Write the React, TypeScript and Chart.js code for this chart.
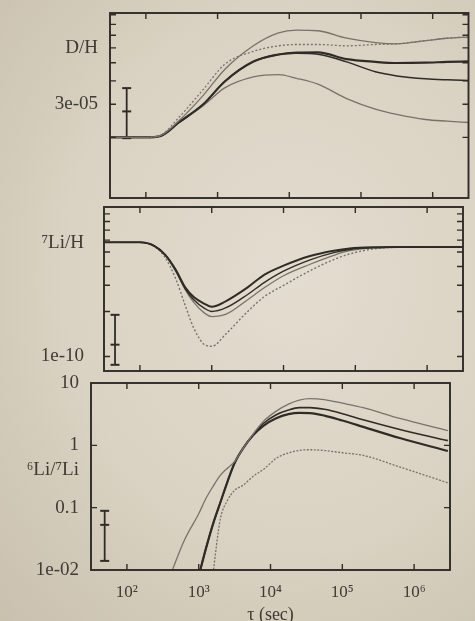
import React, { useEffect, useRef } from 'react';
import { Chart, registerables } from 'chart.js';

Chart.register(...registerables);

const W = 475;
const H = 621;

// ---------- shared x axis (time, sec) ----------
const xMin = 31.6;
const xMax = 3.16e6;
const xTickValues = [1e2, 1e3, 1e4, 1e5, 1e6];
const xTickLabels = ['10²', '10³', '10⁴', '10⁵', '10⁶'];
const xTitle = 'τ (sec)';

// ---------- panel 1 : D/H ----------
const dhTime = [32, 100, 158, 288, 631, 1259, 3162, 7079, 12589, 25119, 63096, 158489, 316228, 794328, 1585000, 3162000];
const dhModelA = [2e-5, 2e-5, 2.04e-5, 2.45e-5, 3.35e-5, 4.6e-5, 6.15e-5, 7.2e-5, 7.45e-5, 7.4e-5, 6.75e-5, 6.4e-5, 6.3e-5, 6.55e-5, 6.75e-5, 6.85e-5];
const dhModelB = [2e-5, 2e-5, 2.05e-5, 2.55e-5, 3.6e-5, 4.9e-5, 5.75e-5, 6.15e-5, 6.25e-5, 6.25e-5, 6.15e-5, 6.25e-5, 6.3e-5, 6.55e-5, 6.75e-5, 6.85e-5];
const dhModelC = [2e-5, 2e-5, 2.03e-5, 2.4e-5, 3.0e-5, 3.97e-5, 5.07e-5, 5.53e-5, 5.66e-5, 5.68e-5, 5.22e-5, 5.05e-5, 4.98e-5, 5.0e-5, 5.05e-5, 5.08e-5];
const dhModelD = [2e-5, 2e-5, 2.03e-5, 2.4e-5, 3.0e-5, 3.97e-5, 5.07e-5, 5.53e-5, 5.62e-5, 5.55e-5, 5.05e-5, 4.47e-5, 4.25e-5, 4.1e-5, 4.05e-5, 4.02e-5];
const dhModelE = [2e-5, 2e-5, 2.03e-5, 2.4e-5, 2.95e-5, 3.67e-5, 4.2e-5, 4.32e-5, 4.13e-5, 3.84e-5, 3.22e-5, 2.83e-5, 2.65e-5, 2.49e-5, 2.44e-5, 2.4e-5];
const dhYMin = 0.95e-5;
const dhYMax = 9.2e-5;
const dhMarkValues = [2e-5, 3e-5, 4e-5, 5e-5, 6e-5, 7e-5, 8e-5, 9e-5];
const dhLabelValues = [3e-5, 6e-5];
const dhLabelTexts = ['3e-05', 'D/H'];
const dhErrTime = 54;
const dhErrValues = [1.98e-5, 2.75e-5, 3.66e-5];

// ---------- panel 2 : 7Li/H ----------
const liTime = [32, 100, 158, 224, 316, 427, 562, 794, 1000, 1585, 3162, 5370, 10000, 23442, 50119, 83176, 199526, 398107, 1000000, 3162000];
const liModelA = [5.8e-10, 5.8e-10, 5.5e-10, 4.8e-10, 3.8e-10, 2.9e-10, 2.5e-10, 2.25e-10, 2.15e-10, 2.35e-10, 2.9e-10, 3.52e-10, 4.05e-10, 4.7e-10, 5.1e-10, 5.28e-10, 5.38e-10, 5.4e-10, 5.4e-10, 5.4e-10];
const liModelB = [5.8e-10, 5.8e-10, 5.5e-10, 4.8e-10, 3.75e-10, 2.85e-10, 2.4e-10, 2.1e-10, 2.0e-10, 2.12e-10, 2.6e-10, 3.12e-10, 3.72e-10, 4.43e-10, 4.95e-10, 5.2e-10, 5.36e-10, 5.4e-10, 5.4e-10, 5.4e-10];
const liModelC = [5.8e-10, 5.8e-10, 5.5e-10, 4.75e-10, 3.7e-10, 2.8e-10, 2.3e-10, 1.95e-10, 1.85e-10, 1.92e-10, 2.4e-10, 2.88e-10, 3.47e-10, 4.14e-10, 4.75e-10, 5.1e-10, 5.34e-10, 5.4e-10, 5.4e-10, 5.4e-10];
const liModelD = [5.8e-10, 5.8e-10, 5.45e-10, 4.6e-10, 3.3e-10, 2.2e-10, 1.55e-10, 1.2e-10, 1.17e-10, 1.42e-10, 2.0e-10, 2.51e-10, 2.99e-10, 3.75e-10, 4.45e-10, 4.85e-10, 5.28e-10, 5.38e-10, 5.4e-10, 5.4e-10];
const liYMin = 8e-11;
const liYMax = 1e-9;
const liMarkValues = [1e-10, 2e-10, 3e-10, 4e-10, 5e-10, 6e-10, 7e-10, 8e-10, 9e-10];
const liLabelValues = [1e-10, 5.7e-10];
const liLabelTexts = ['1e-10', '⁷Li/H'];
const liErrTime = 45;
const liErrValues = [0.88e-10, 1.2e-10, 1.9e-10];

// ---------- panel 3 : 6Li/7Li ----------
const ratioTime = [398, 631, 1000, 1259, 1585, 1995, 2512, 3162, 4169, 5754, 7943, 12023, 17783, 25119, 35481, 56234, 100000, 194984, 630957, 2950000];
const ratioModelA = [0.008, 0.03, 0.08, 0.14, 0.22, 0.33, 0.43, 0.55, 0.9, 1.53, 2.42, 3.54, 4.57, 5.33, 5.63, 5.41, 4.75, 4.02, 2.7, 1.72];
const ratioModelB = [null, null, 0.008, 0.022, 0.055, 0.12, 0.26, 0.52, 0.9, 1.49, 2.24, 3.1, 3.69, 4.02, 4.03, 3.78, 3.22, 2.57, 1.8, 1.19];
const ratioModelC = [null, null, 0.008, 0.022, 0.055, 0.12, 0.26, 0.52, 0.9, 1.46, 2.06, 2.72, 3.16, 3.32, 3.29, 3.0, 2.5, 1.98, 1.31, 0.81];
const ratioModelD = [null, null, null, null, 0.009, 0.065, 0.13, 0.19, 0.23, 0.32, 0.41, 0.62, 0.755, 0.83, 0.85, 0.825, 0.76, 0.69, 0.45, 0.25];
const ratioYMin = 0.01;
const ratioYMax = 10;
const ratioMarkValues = [0.1, 1];
const ratioLabelValues = [0.01, 0.1, 0.4, 1, 10];
const ratioLabelTexts = ['1e-02', '0.1', '⁶Li/⁷Li', '1', '10'];
const ratioErrTime = 49;
const ratioErrValues = [0.014, 0.053, 0.089];

// ---------- styling ----------
const INK = '#2f2c28';
const GRAY = '#77726b';
const TEXT = '#3e3a35';
const SERIF = "'Liberation Serif', 'DejaVu Serif', serif";

type Line = { values: (number | null)[]; color: string; width: number; dash?: number[] };
type Spec = {
  top: number; bottom: number; left: number; right: number;
  yMin: number; yMax: number;
  marks: number[]; labelValues: number[]; labelTexts: string[];
  labelPad: number;
  time: number[]; lines: Line[];
  errTime: number; errValues: number[];
  showX: boolean;
};

const panels: Spec[] = [
  {
    top: 13, bottom: 198, left: 110, right: 470,
    yMin: dhYMin, yMax: dhYMax, marks: dhMarkValues,
    labelValues: dhLabelValues, labelTexts: dhLabelTexts, labelPad: 12,
    time: dhTime,
    lines: [
      { values: dhModelA, color: GRAY, width: 1.3 },
      { values: dhModelB, color: GRAY, width: 1.3, dash: [2, 2] },
      { values: dhModelC, color: INK, width: 2.2 },
      { values: dhModelD, color: INK, width: 1.5 },
      { values: dhModelE, color: GRAY, width: 1.3 },
    ],
    errTime: dhErrTime, errValues: dhErrValues, showX: false,
  },
  {
    top: 207, bottom: 371, left: 104, right: 463,
    yMin: liYMin, yMax: liYMax, marks: liMarkValues,
    labelValues: liLabelValues, labelTexts: liLabelTexts, labelPad: 20,
    time: liTime,
    lines: [
      { values: liModelA, color: INK, width: 2.0 },
      { values: liModelB, color: INK, width: 1.4 },
      { values: liModelC, color: GRAY, width: 1.3 },
      { values: liModelD, color: GRAY, width: 1.4, dash: [2, 2] },
    ],
    errTime: liErrTime, errValues: liErrValues, showX: false,
  },
  {
    top: 383, bottom: 570, left: 91, right: 450,
    yMin: ratioYMin, yMax: ratioYMax, marks: ratioMarkValues,
    labelValues: ratioLabelValues, labelTexts: ratioLabelTexts, labelPad: 12,
    time: ratioTime,
    lines: [
      { values: ratioModelA, color: GRAY, width: 1.3 },
      { values: ratioModelB, color: INK, width: 1.6 },
      { values: ratioModelC, color: INK, width: 2.2 },
      { values: ratioModelD, color: GRAY, width: 1.3, dash: [2, 1.5] },
    ],
    errTime: ratioErrTime, errValues: ratioErrValues, showX: true,
  },
];

const framePlugin = {
  id: 'frameTicks',
  afterDatasetsDraw(chart: any, _args: any, opts: any) {
    const { ctx, chartArea } = chart;
    const { left, right, top, bottom } = chartArea;
    const xs = chart.scales.x;
    const ys = chart.scales.y;
    const len = opts.len;
    ctx.save();
    ctx.strokeStyle = opts.color;
    ctx.lineWidth = opts.tickWidth;
    ctx.beginPath();
    for (const v of opts.xMarks) {
      const px = xs.getPixelForValue(v);
      ctx.moveTo(px, bottom);
      ctx.lineTo(px, bottom - len);
      ctx.moveTo(px, top);
      ctx.lineTo(px, top + len);
    }
    for (const v of opts.yMarks) {
      const py = ys.getPixelForValue(v);
      ctx.moveTo(left, py);
      ctx.lineTo(left + len, py);
      ctx.moveTo(right, py);
      ctx.lineTo(right - len, py);
    }
    ctx.stroke();
    ctx.lineWidth = opts.frameWidth;
    ctx.strokeRect(left, top, right - left, bottom - top);
    ctx.restore();
  },
};

function buildConfig(p: Spec): any {
  const datasets: any[] = p.lines.map((ln) => ({
    data: p.time.map((t, i) => ({ x: t, y: ln.values[i] })),
    borderColor: ln.color,
    borderWidth: ln.width,
    borderDash: ln.dash || [],
    pointRadius: 0,
    fill: false,
    cubicInterpolationMode: 'monotone',
    spanGaps: false,
  }));
  datasets.push({
    data: p.errValues.map((v) => ({ x: p.errTime, y: v })),
    borderColor: INK,
    borderWidth: 1.8,
    pointStyle: 'line',
    pointRadius: 4.5,
    pointBorderWidth: 2,
    pointBorderColor: INK,
    fill: false,
    clip: false,
  });

  return {
    type: 'line',
    data: { datasets },
    plugins: [framePlugin],
    options: {
      animation: false,
      responsive: false,
      devicePixelRatio: 1,
      events: [],
      layout: {
        padding: { top: p.top, bottom: p.showX ? 0 : H - p.bottom, left: 0, right: W - p.right },
      },
      plugins: {
        legend: { display: false },
        tooltip: { enabled: false },
        frameTicks: { xMarks: xTickValues, yMarks: p.marks, len: 6, color: INK, tickWidth: 1.4, frameWidth: 1.9 },
      },
      scales: {
        x: {
          type: 'logarithmic',
          min: xMin,
          max: xMax,
          display: p.showX,
          grid: { display: false, drawTicks: false },
          border: { display: false },
          afterBuildTicks: (s: any) => {
            s.ticks = xTickValues.map((v) => ({ value: v }));
          },
          ticks: {
            autoSkip: false,
            maxRotation: 0,
            padding: 12,
            color: TEXT,
            font: { family: SERIF, size: 17 },
            callback: (v: any) => {
              const i = xTickValues.indexOf(v);
              return i >= 0 ? xTickLabels[i] : '';
            },
          },
          title: {
            display: true,
            text: xTitle,
            color: TEXT,
            font: { family: SERIF, size: 18 },
            padding: { top: 0, bottom: -5 },
          },
          afterFit: (s: any) => {
            if (!p.showX) return;
            s.height = H - p.bottom;
            s.paddingLeft = 0;
            s.paddingRight = 0;
          },
        },
        y: {
          type: 'logarithmic',
          min: p.yMin,
          max: p.yMax,
          grid: { display: false, drawTicks: false },
          border: { display: false },
          afterBuildTicks: (s: any) => {
            s.ticks = p.labelValues.map((v) => ({ value: v }));
          },
          ticks: {
            autoSkip: false,
            padding: p.labelPad,
            color: TEXT,
            font: { family: SERIF, size: 19 },
            callback: (v: any) => {
              const i = p.labelValues.indexOf(v);
              return i >= 0 ? p.labelTexts[i] : '';
            },
          },
          afterFit: (s: any) => {
            s.width = p.left;
            s.paddingTop = 0;
            s.paddingBottom = 0;
          },
        },
      },
    },
  };
}

function Panel({ spec }: { spec: Spec }) {
  const ref = useRef<HTMLCanvasElement>(null);
  useEffect(() => {
    const chart = new Chart(ref.current as HTMLCanvasElement, buildConfig(spec));
    return () => chart.destroy();
  }, [spec]);
  return (
    <canvas
      ref={ref}
      width={W}
      height={H}
      style={{ position: 'absolute', left: 0, top: 0, width: W, height: H }}
    />
  );
}

export default function App() {
  return (
    <div
      style={{
        position: 'fixed',
        left: 0,
        top: 0,
        width: W,
        height: H,
        overflow: 'hidden',
        background: 'radial-gradient(ellipse at 62% 45%, #e3ddd0 0%, #dad2c2 55%, #c9c0ae 100%)',
      }}
    >
      {panels.map((p, i) => (
        <Panel key={i} spec={p} />
      ))}
    </div>
  );
}
